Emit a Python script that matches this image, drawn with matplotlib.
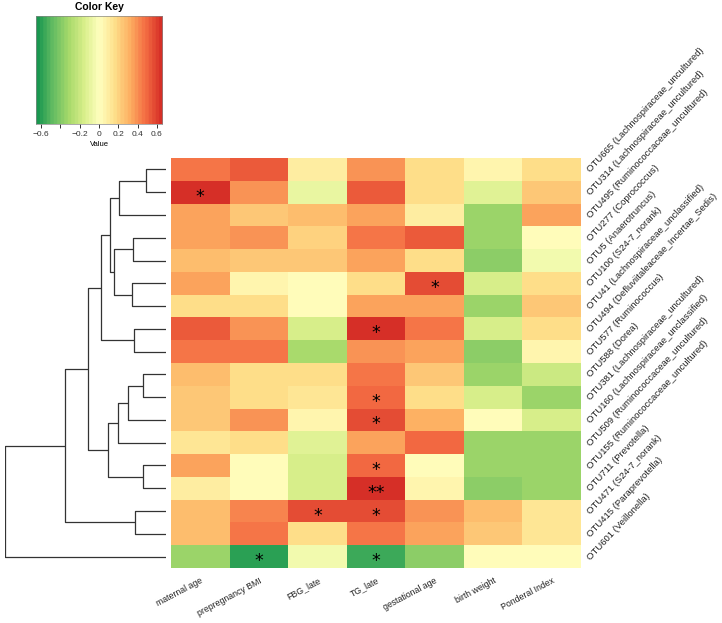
import numpy as np
import matplotlib
matplotlib.use("Agg")
import matplotlib.pyplot as plt
from matplotlib.colors import ListedColormap, BoundaryNorm

# --- data ---
columns = ["maternal age", "prepregnancy BMI", "FBG_late", "TG_late",
           "gestational age", "birth weight", "Ponderal Index"]

otus = ["OTU665 (Lachnospiraceae_uncultured)",
        "OTU314 (Lachnospiraceae_uncultured)",
        "OTU495 (Ruminococcaceae_uncultured)",
        "OTU277 (Coprococcus)",
        "OTU5 (Anaerotruncus)",
        "OTU100 (S24-7_norank)",
        "OTU41 (Lachnospiraceae_unclassified)",
        "OTU494 (Defluviitaleaceae_Incertae_Sedis)",
        "OTU577 (Ruminococcus)",
        "OTU588 (Dorea)",
        "OTU381 (Lachnospiraceae_uncultured)",
        "OTU160 (Lachnospiraceae_unclassified)",
        "OTU509 (Ruminococcaceae_uncultured)",
        "OTU155 (Ruminococcaceae_uncultured)",
        "OTU711 (Prevotella)",
        "OTU471 (S24-7_norank)",
        "OTU415 (Paraprevotella)",
        "OTU601 (Veillonella)"]

corr = [
    [0.45, 0.52, 0.08, 0.40, 0.15, 0.07, 0.18],
    [0.62, 0.40, -0.08, 0.52, 0.15, -0.12, 0.22],
    [0.33, 0.22, 0.28, 0.33, 0.08, -0.35, 0.35],
    [0.33, 0.40, 0.20, 0.45, 0.52, -0.35, 0.02],
    [0.28, 0.25, 0.25, 0.33, 0.15, -0.40, -0.06],
    [0.35, 0.05, 0.01, 0.17, 0.57, -0.15, 0.18],
    [0.15, 0.18, 0.02, 0.35, 0.35, -0.35, 0.25],
    [0.52, 0.40, -0.17, 0.62, 0.45, -0.15, 0.18],
    [0.45, 0.45, -0.30, 0.40, 0.33, -0.38, 0.07],
    [0.28, 0.15, 0.15, 0.45, 0.25, -0.33, -0.20],
    [0.25, 0.18, 0.12, 0.50, 0.15, -0.15, -0.35],
    [0.25, 0.40, 0.05, 0.55, 0.30, 0.02, -0.18],
    [0.12, 0.15, -0.12, 0.35, 0.50, -0.35, -0.35],
    [0.35, 0.01, -0.17, 0.50, 0.03, -0.35, -0.35],
    [0.10, 0.02, -0.15, 0.62, 0.07, -0.40, -0.35],
    [0.28, 0.42, 0.58, 0.57, 0.40, 0.28, 0.12],
    [0.28, 0.47, 0.17, 0.45, 0.35, 0.22, 0.12],
    [-0.35, -0.60, -0.05, -0.58, -0.40, 0.03, 0.03],
]

stars = [
    ["", "", "", "", "", "", ""],
    ["*", "", "", "", "", "", ""],
    ["", "", "", "", "", "", ""],
    ["", "", "", "", "", "", ""],
    ["", "", "", "", "", "", ""],
    ["", "", "", "", "*", "", ""],
    ["", "", "", "", "", "", ""],
    ["", "", "", "*", "", "", ""],
    ["", "", "", "", "", "", ""],
    ["", "", "", "", "", "", ""],
    ["", "", "", "*", "", "", ""],
    ["", "", "", "*", "", "", ""],
    ["", "", "", "", "", "", ""],
    ["", "", "", "*", "", "", ""],
    ["", "", "", "**", "", "", ""],
    ["", "", "*", "*", "", "", ""],
    ["", "", "", "", "", "", ""],
    ["", "*", "", "*", "", "", ""],
]

# row dendrogram merges: (left node, right node, height); leaves 0..17, new nodes 18..
merges = [
    (0, 1, 59), (18, 2, 139), (3, 4, 99), (5, 6, 102), (20, 21, 154),
    (19, 22, 167), (7, 8, 95), (23, 24, 195), (9, 10, 67), (26, 11, 112),
    (27, 12, 144), (13, 14, 67), (28, 29, 172), (25, 30, 234), (15, 16, 92),
    (31, 32, 302), (33, 17, 483),
]

vmin, vmax = -0.655, 0.655
nbins = 36
cmap = ListedColormap(plt.cm.RdYlGn_r(np.linspace(0.1, 0.9, nbins)))
norm = BoundaryNorm(np.linspace(vmin, vmax, nbins + 1), nbins)

W, H = 722, 623
fig = plt.figure(figsize=(W / 100, H / 100), dpi=100)

def ax_px(x0, y0, x1, y1):
    return fig.add_axes([x0 / W, 1 - y1 / H, (x1 - x0) / W, (y1 - y0) / H])

# heatmap
ax = ax_px(171, 158, 581, 568)
data = np.array(corr)
ax.pcolormesh(np.arange(len(columns) + 1), np.arange(len(otus) + 1), data,
              cmap=cmap, norm=norm)
ax.set_xlim(0, len(columns))
ax.set_ylim(len(otus), 0)
for i in range(len(otus)):
    for j in range(len(columns)):
        if stars[i][j]:
            ax.text(j + 0.5, i + 0.7, stars[i][j], ha="center", va="center",
                    fontsize=12.5, color="black")
ax.set_xticks([])
ax.set_yticks([])
for s in ax.spines.values():
    s.set_visible(False)
for j, c in enumerate(columns):
    ax.text(j + 0.5, len(otus) + 0.35, c, rotation=28, ha="right", va="top",
            fontsize=6.3, color="#222222", rotation_mode="anchor",
            family="Liberation Sans")
for i, name in enumerate(otus):
    ax.text(len(columns) + 0.19, i + 0.72, name, rotation=47, ha="left",
            va="bottom", fontsize=6.8, color="#222222", rotation_mode="anchor",
            family="Liberation Sans")

# dendrogram
dax = ax_px(4.7, 158, 165.7, 568)
pos = {i: (i + 0.5, 0.0) for i in range(len(otus))}
for k, (a, b, h) in enumerate(merges):
    ya, ha_ = pos[a]
    yb, hb = pos[b]
    dax.plot([ha_, h, h, hb], [ya, ya, yb, yb], color="#333333", lw=0.9,
             solid_capstyle="butt")
    pos[len(otus) + k] = ((ya + yb) / 2, h)
dax.set_xlim(483, 0)
dax.set_ylim(len(otus), 0)
dax.axis("off")

# color key
kax = ax_px(35.7, 16, 162.3, 124)
grad = np.linspace(vmin, vmax, 400).reshape(1, -1)
kax.imshow(grad, aspect="auto", cmap=cmap, norm=norm,
           extent=[vmin, vmax, 0, 1])
kax.set_xlim(vmin, vmax)
kax.set_yticks([])
kticks = [-0.6, -0.4, -0.2, 0, 0.2, 0.4, 0.6]
kax.set_xticks(kticks)
kax.set_xticklabels(["\u22120.6", "", "\u22120.2", "0", "0.2", "0.4", "0.6"],
                    fontsize=6, color="#333333", family="Liberation Sans")
kax.tick_params(axis="x", length=3, width=0.7, pad=2, colors="#333333")
for s in kax.spines.values():
    s.set_linewidth(0.5)
    s.set_color("#888888")
kax.set_title("Color Key", fontsize=7.5, fontweight="bold", pad=4,
              family="Liberation Sans")
kax.set_xlabel("Value", fontsize=5.5, labelpad=2, family="Liberation Sans")

fig.savefig("out.png", dpi=100)
